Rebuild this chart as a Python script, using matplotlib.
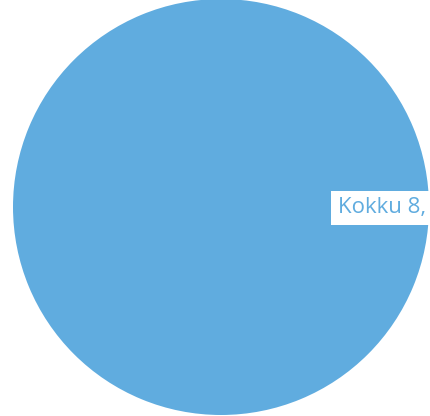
import matplotlib.pyplot as plt

labels = ['Kokku']
values = [8]
label_text = 'Kokku 8,'
colors = ['#60acdf']

fig = plt.figure(figsize=(4.30, 4.16), dpi=100)
ax = fig.add_axes([0, 0, 1, 1])

ax.pie(values, colors=colors, center=(221, 209), radius=208,
       startangle=90, frame=True, wedgeprops=dict(linewidth=0))
ax.set_xlim(0, 430)
ax.set_ylim(0, 416)
ax.set_aspect('equal')
ax.axis('off')

ax.text(338, 208, label_text, fontsize=16, color=colors[0], family='Open Sans',
        va='center', ha='left', clip_on=False,
        bbox=dict(boxstyle='square,pad=0.3', facecolor='white', edgecolor='none'))

fig.savefig('out.png', dpi=100)
